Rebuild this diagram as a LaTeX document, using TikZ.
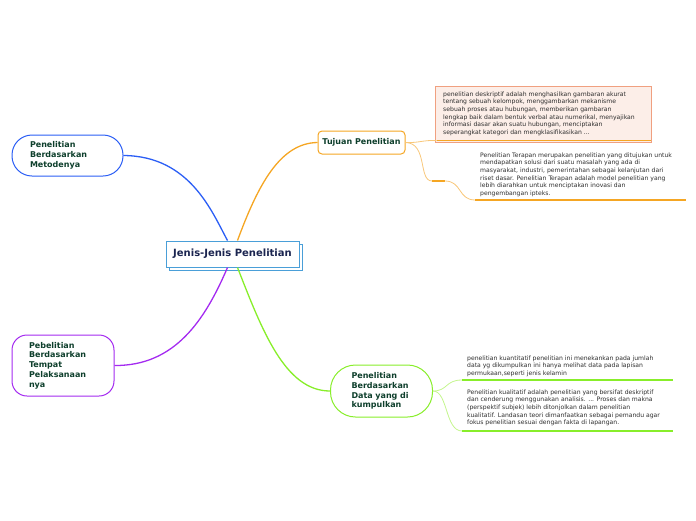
\documentclass[tikz,border=0pt]{standalone}
\usepackage{fontspec}
\setmainfont{DejaVu Sans}
\definecolor{metblue}{HTML}{2B5EF5}
\definecolor{purp}{HTML}{A42BF0}
\definecolor{grn}{HTML}{88EE2A}
\definecolor{org}{HTML}{F5A623}
\definecolor{orgl}{HTML}{F8C77A}
\definecolor{grnl}{HTML}{C4F58E}
\definecolor{topictext}{HTML}{0E3F2C}
\definecolor{cenblue}{HTML}{4A9FD8}
\definecolor{centext}{HTML}{1B2550}
\definecolor{boxfill}{HTML}{FCEEE8}
\definecolor{boxdraw}{HTML}{F0A080}
\definecolor{bodytext}{HTML}{2E2E2E}
\tikzset{
  topic/.style={font=\fontsize{8}{9.8}\selectfont\bfseries, text=topictext, fill=white, line width=1pt, align=left},
  body/.style={font=\fontsize{6.1}{7.6}\selectfont, text=bodytext, align=left, anchor=north west, inner sep=0pt},
  conn/.style={line width=1.3pt},
}
\begin{document}
\begin{tikzpicture}[x=1pt,y=-1pt]
\useasboundingbox (0,0) rectangle (696,520);
% central
\node[draw=cenblue, fill=white, line width=1pt, minimum width=133, minimum height=26] (cenS) at (235.5,257) {};
\node[draw=cenblue, fill=white, line width=1pt, minimum width=133, minimum height=26, font=\fontsize{10}{12}\selectfont\bfseries, text=centext] (cen) at (232.5,254) {Jenis-Jenis Penelitian};
% topics
\node[topic, draw=metblue, inner xsep=18, text width=75, minimum height=41, rounded corners=20] (met) at (67.5,155.5) {Penelitian\\Berdasarkan\\Metodenya};
\node[topic, draw=purp, inner xsep=17, text width=68, minimum height=61, rounded corners=15] (tem) at (63,365.5) {Pebelitian\\Berdasarkan\\Tempat\\Pelaksanaan\\nya};
\node[topic, draw=grn, inner xsep=21, text width=60, minimum height=52, rounded corners=25] (dat) at (381.5,391) {Penelitian\\Berdasarkan\\Data yang di\\kumpulkan};
\node[topic, draw=org, minimum width=87, minimum height=23, rounded corners=4, align=center] (tuj) at (361.5,142.5) {Tujuan Penelitian};
% main connectors
\draw[conn, metblue] ([xshift=-5pt]cen.north) .. controls (212,212) and (190,156) .. (met.east);
\draw[conn, org] ([xshift=5pt]cen.north) .. controls (258,185) and (280,143) .. (tuj.west);
\draw[conn, purp] ([xshift=-5pt]cen.south) .. controls (205,320) and (175,366) .. (tem.east);
\draw[conn, grn] ([xshift=5pt]cen.south) .. controls (262,330) and (285,391) .. (dat.west);
% box 1
\node[draw=boxdraw, fill=boxfill, line width=1pt, minimum width=216, minimum height=56, anchor=north west] (b1) at (435,86) {};
\draw[org, line width=1pt] ([xshift=1.5pt,yshift=2.5pt]b1.south west) coordinate (b1l) -- ([xshift=-1.5pt,yshift=2.5pt]b1.south east);
\node[body] (t1) at (443,91.5) {penelitian deskriptif adalah menghasilkan gambaran akurat\\tentang sebuah kelompok, menggambarkan mekanisme\\sebuah proses atau hubungan, memberikan gambaran\\lengkap baik dalam bentuk verbal atau numerikal, menyajikan\\informasi dasar akan suatu hubungan, menciptakan\\seperangkat kategori dan mengklasifikasikan ...};
\draw[orgl, line width=0.8pt] (tuj.east) .. controls (420,143) and (422,140) .. (b1l);
% text 2
\coordinate (k2a) at (432,181);
\coordinate (k2b) at (445,181);
\coordinate (u2a) at (475,200);
\coordinate (u2b) at (686,200);
\draw[orgl, line width=0.8pt] (tuj.east) .. controls (428,143) and (418,181) .. (k2a);
\draw[org, line width=1.2pt] (k2a) -- (k2b);
\draw[orgl, line width=0.8pt] (k2b) .. controls (462,181) and (458,200) .. (u2a);
\draw[org, line width=1.5pt] (u2a) -- (u2b);
\node[body] (t2) at (480,152.5) {Penelitian Terapan merupakan penelitian yang ditujukan untuk\\mendapatkan solusi dari suatu masalah yang ada di\\masyarakat, industri, pemerintahan sebagai kelanjutan dari\\riset dasar. Penelitian Terapan adalah model penelitian yang\\lebih diarahkan untuk menciptakan inovasi dan\\pengembangan ipteks.};
% green texts
\coordinate (u3a) at (462,380);
\coordinate (u3b) at (673,380);
\coordinate (u4a) at (462,431);
\coordinate (u4b) at (673,431);
\draw[grnl, line width=0.8pt] (dat.east) .. controls (448,391) and (445,380) .. (u3a);
\draw[grnl, line width=0.8pt] (dat.east) .. controls (448,391) and (445,431) .. (u4a);
\draw[grn, line width=1.5pt] (u3a) -- (u3b);
\draw[grn, line width=1.5pt] (u4a) -- (u4b);
\node[body] (t3) at (467,355.5) {penelitian kuantitatif penelitian ini menekankan pada jumlah\\data yg dikumpulkan ini hanya melihat data pada lapisan\\permukaan,seperti jenis kelamin};
\node[body] (t4) at (467,389.5) {Penelitian kualitatif adalah penelitian yang bersifat deskriptif\\dan cenderung menggunakan analisis. ... Proses dan makna\\(perspektif subjek) lebih ditonjolkan dalam penelitian\\kualitatif. Landasan teori dimanfaatkan sebagai pemandu agar\\fokus penelitian sesuai dengan fakta di lapangan.};
\end{tikzpicture}
\end{document}
